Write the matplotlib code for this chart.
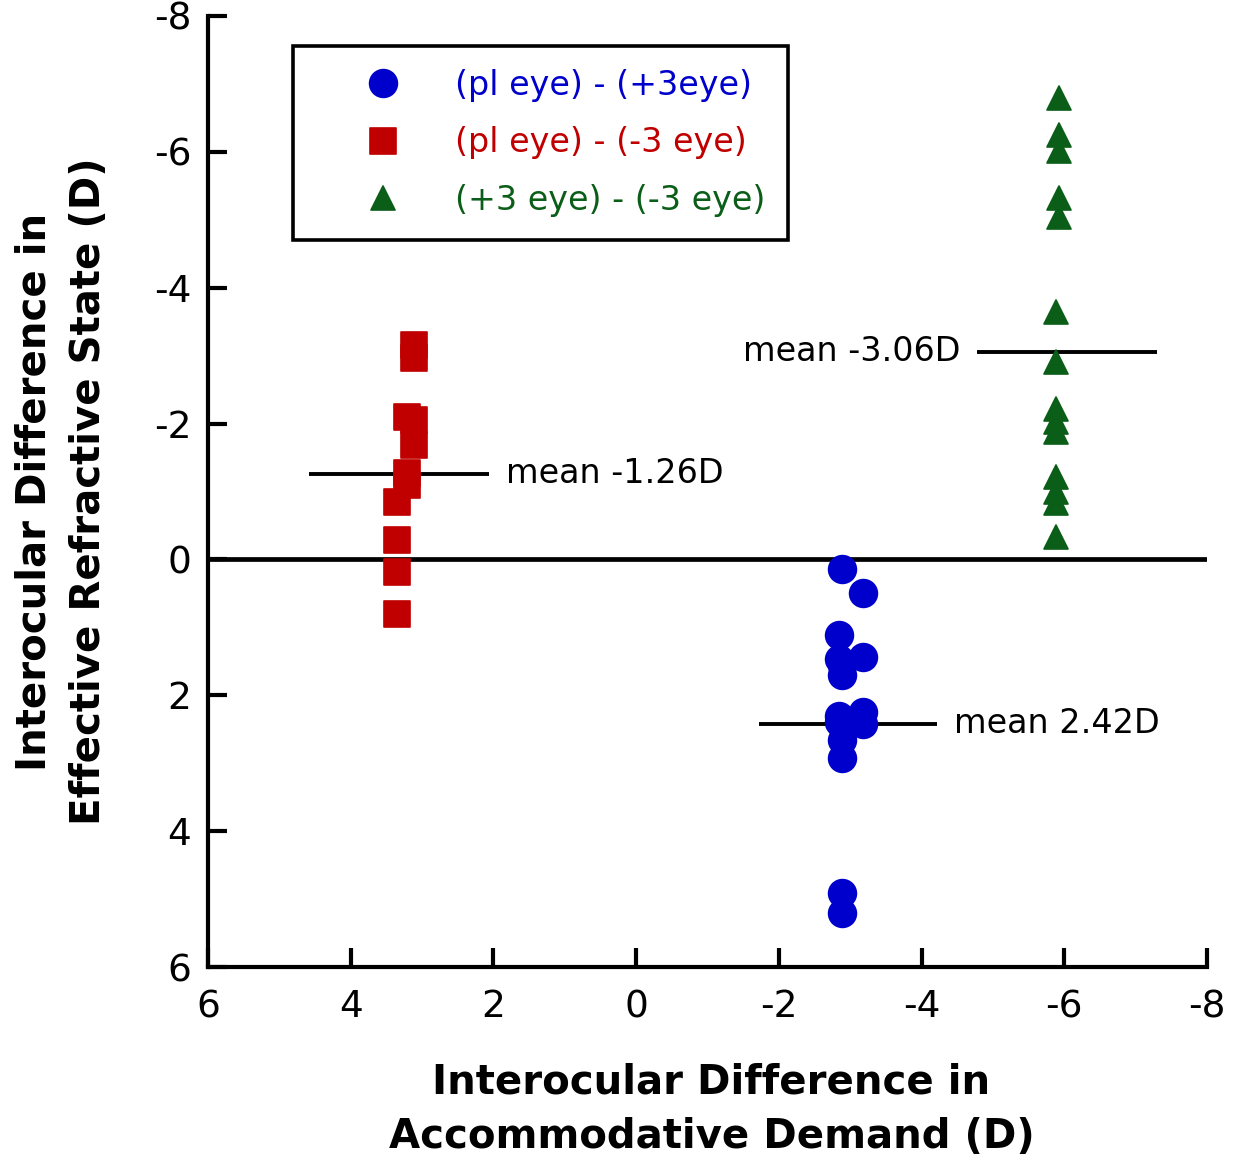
import matplotlib
matplotlib.use("Agg")
import matplotlib.pyplot as plt
from matplotlib.markers import MarkerStyle

# Interocular difference in accommodative demand (x) vs. effective refractive state (y), in dioptres
blue_x = [-2.89, -3.18, -2.84, -3.18, -2.84, -2.89, -2.89, -2.84, -3.18, -3.18, -2.84, -2.89, -2.89, -2.89, -2.89]
blue_y = [0.14, 0.50, 1.11, 1.44, 1.46, 1.55, 1.70, 2.31, 2.25, 2.43, 2.39, 2.66, 2.92, 4.91, 5.20]

red_x = [3.11, 3.11, 3.21, 3.11, 3.11, 3.21, 3.21, 3.35, 3.35, 3.35, 3.35]
red_y = [-3.16, -2.96, -2.09, -2.05, -1.69, -1.27, -1.10, -0.85, -0.28, 0.19, 0.80]

green_x = [-5.93, -5.93, -5.93, -5.93, -5.93, -5.89, -5.89, -5.89, -5.89, -5.89, -5.89, -5.89, -5.89, -5.89]
green_y = [-6.79, -6.25, -6.01, -5.32, -5.04, -3.64, -2.91, -2.22, -2.02, -1.87, -1.21, -0.99, -0.83, -0.33]

series_labels = ["(pl eye) - (+3eye)", "(pl eye) - (-3 eye)", "(+3 eye) - (-3 eye)"]
series_colors = ["#0000cc", "#c00000", "#0b5e18"]

# group means and the span of each mean bar
mean_values = [-1.26, 2.42, -3.06]
mean_spans = [(4.58, 2.06), (-1.72, -4.22), (-4.78, -7.30)]
mean_texts = ["mean -1.26D", "mean 2.42D", "mean -3.06D"]

ticks = [6, 4, 2, 0, -2, -4, -6, -8]

fig = plt.figure(figsize=(12.41, 11.66), dpi=100)
ax = fig.add_axes([208 / 1241, 1 - 967 / 1166, 999 / 1241, 951 / 1166])

ax.set_xlim(6, -8)
ax.set_ylim(6, -8)

ax.axhline(0, color="black", lw=3.4, zorder=1)

mk_kw = dict(ls="none", markeredgewidth=1.2, zorder=3)
h_blue, = ax.plot(blue_x, blue_y, marker=MarkerStyle("o"), ms=20,
                  color=series_colors[0], label=series_labels[0], **mk_kw)
h_red, = ax.plot(red_x, red_y, marker=MarkerStyle("s", joinstyle="round"), ms=18.5,
                 color=series_colors[1], label=series_labels[1], **mk_kw)
h_green, = ax.plot(green_x, green_y, marker=MarkerStyle("^", joinstyle="round"), ms=17.5,
                   color=series_colors[2], label=series_labels[2], **mk_kw)

# mean bars with their labels
for (x0, x1), m in zip(mean_spans, mean_values):
    ax.plot([x0, x1], [m, m], color="black", lw=2.8, solid_capstyle="butt", zorder=2)
for i, ((x0, x1), m, txt) in enumerate(zip(mean_spans, mean_values, mean_texts)):
    if i < 2:
        ax.annotate(txt, xy=(x1, m), xytext=(12, 0), textcoords="offset points",
                    ha="left", va="center", fontsize=24)
    else:
        ax.annotate(txt, xy=(x0, m), xytext=(-12, 0), textcoords="offset points",
                    ha="right", va="center", fontsize=24)

for side in ("top", "right"):
    ax.spines[side].set_visible(False)
for side in ("left", "bottom"):
    ax.spines[side].set_linewidth(3)

ax.set_xticks(ticks)
ax.set_yticks(ticks)
ax.set_xticklabels([str(t) for t in ticks])
ax.set_yticklabels([str(t) for t in ticks])
ax.tick_params(axis="both", direction="in", length=14, width=3, labelsize=27)
ax.tick_params(axis="x", pad=16)
ax.tick_params(axis="y", pad=12)

ax.set_xlabel("Interocular Difference in\nAccommodative Demand (D)",
              fontsize=29, fontweight="bold", linespacing=1.45)
ax.xaxis.set_label_coords(0.504, -0.150)
ax.xaxis.label.set_va("center")
ax.set_ylabel("Interocular Difference in\nEffective Refractive State (D)",
              fontsize=29, fontweight="bold", linespacing=1.45)
ax.yaxis.set_label_coords(-0.1466, 0.5)
ax.yaxis.label.set_va("center")

leg = ax.legend(handles=[h_blue, h_red, h_green], loc="upper left",
                bbox_to_anchor=(0.085, 0.9685), borderaxespad=0,
                fontsize=24, frameon=True, fancybox=False, shadow=False,
                edgecolor="black", borderpad=0.68, handlelength=4.04,
                handletextpad=0.14, labelspacing=0.74, numpoints=1,
                labelcolor=series_colors)
leg.get_frame().set_linewidth(2.6)
leg.get_frame().set_alpha(1)

fig.savefig("out.png", dpi=100, facecolor="white")
